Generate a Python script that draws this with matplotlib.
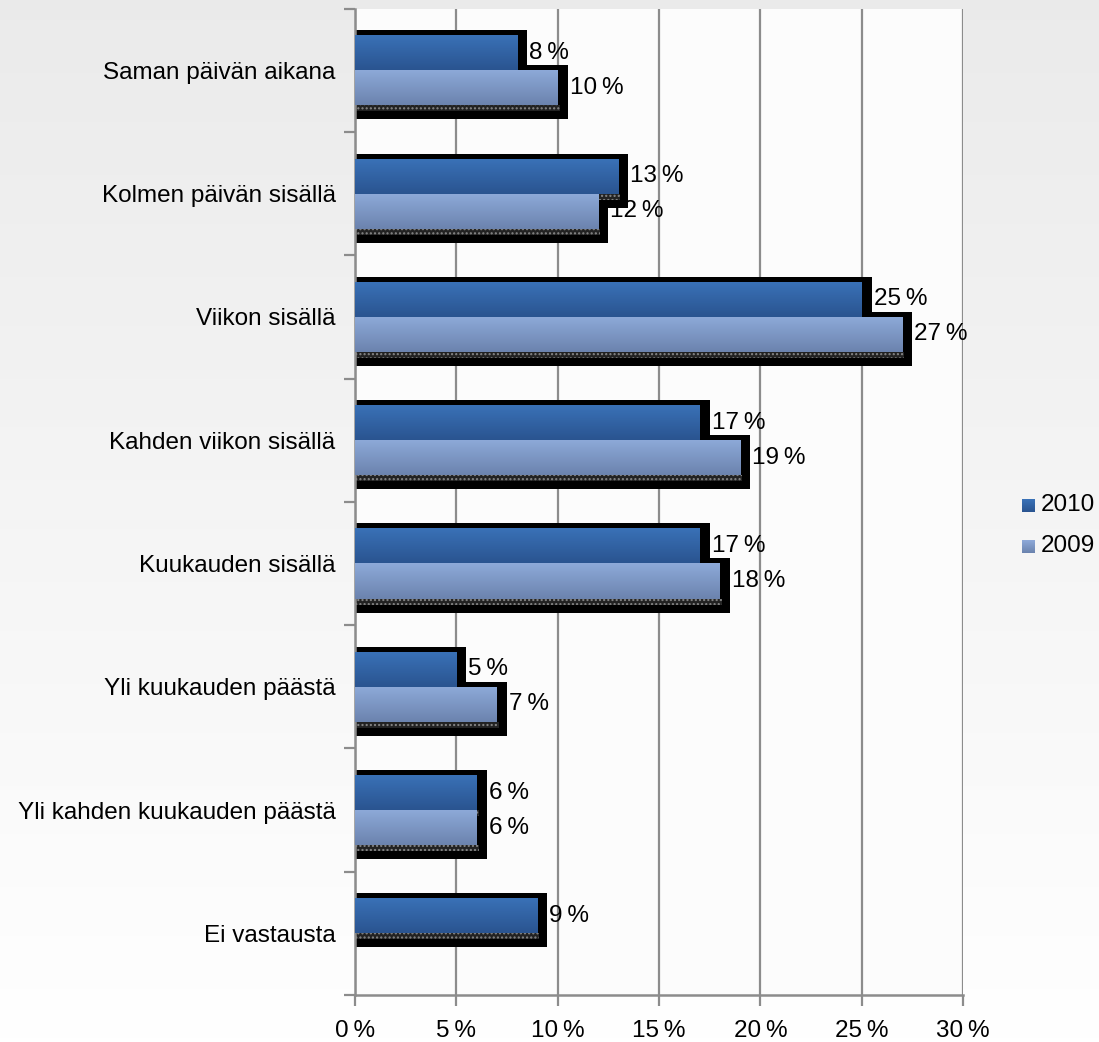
import numpy as np
import matplotlib.pyplot as plt
from matplotlib.patches import Rectangle

plt.rcParams['font.family'] = ['Liberation Sans', 'DejaVu Sans']

categories = ['Saman päivän aikana', 'Kolmen päivän sisällä', 'Viikon sisällä',
              'Kahden viikon sisällä', 'Kuukauden sisällä', 'Yli kuukauden päästä',
              'Yli kahden kuukauden päästä', 'Ei vastausta']
vals_2010 = [8, 13, 25, 17, 17, 5, 6, 9]
vals_2009 = [10, 12, 27, 19, 18, 7, 6, None]
xticks = [0, 5, 10, 15, 20, 25, 30]

col_2010 = ('#3a72b8', '#2a5490')
col_2009 = ('#8eaad9', '#6b83ae')
fs = 17.5

fig = plt.figure(figsize=(10.99, 10.42), dpi=100)

# background gradient (grey top -> white bottom)
bg = fig.add_axes([0, 0, 1, 1], zorder=-10)
grad = np.linspace(0.92, 1.0, 256).reshape(-1, 1)
bg.imshow(np.dstack([grad, grad, grad]), aspect='auto', extent=[0, 1, 0, 1])
bg.axis('off')

ax = fig.add_axes([355 / 1099, 1 - 995 / 1042, (963 - 355) / 1099, (995 - 8.7) / 1042])
ax.set_facecolor('#fcfcfc')

h = 0.284
px = 1 / 123.3  # one pixel in category units
xpx = 30 / 608  # one pixel in percent units


def grad_bar(y0, v, cols):
    # shadow
    ax.add_patch(Rectangle((0, y0 - 5 * px), v + 10 * xpx, h + 19 * px,
                           facecolor='black', edgecolor='none', zorder=2))
    ax.add_patch(Rectangle((0, y0 + h), v + 2 * xpx, 6 * px, facecolor='#222222',
                           edgecolor='#888888', hatch='....', linewidth=0, zorder=2.5))
    rect = Rectangle((0, y0), v, h, facecolor='none', edgecolor='none', zorder=3)
    ax.add_patch(rect)
    c0 = np.array(plt.matplotlib.colors.to_rgb(cols[0]))
    c1 = np.array(plt.matplotlib.colors.to_rgb(cols[1]))
    t = np.linspace(0, 1, 64).reshape(-1, 1, 1)
    img = c0 * (1 - t) + c1 * t
    im = ax.imshow(img, aspect='auto', extent=[0, v, y0 + h, y0], zorder=3,
                   interpolation='bilinear')
    im.set_clip_path(rect)
    ax.text(v + 12 * xpx, y0 + h / 2, f'{v}\u2009%', va='center', ha='left',
            fontsize=fs, zorder=5)


for i in range(len(categories)):
    grad_bar(i - h, vals_2010[i], col_2010)
    if vals_2009[i] is not None:
        grad_bar(i, vals_2009[i], col_2009)

ax.set_xlim(0, 30)
ax.set_ylim(len(categories) - 0.5, -0.5)
ax.set_xticks(xticks)
ax.set_xticklabels([f'{x}\u2009%' for x in xticks], fontsize=fs)
ax.set_yticks(range(len(categories)))
ax.set_yticklabels(categories, fontsize=fs)
ax.set_yticks(np.arange(-0.5, len(categories)), minor=True)
ax.tick_params(axis='y', which='major', length=0, pad=14)
ax.tick_params(axis='y', which='minor', length=8, width=1.6, color='#8c8c8c')
ax.tick_params(axis='x', length=8, width=1.6, color='#8c8c8c', pad=10)
ax.grid(axis='x', color='#8c8c8c', linewidth=1.6, zorder=1)
ax.set_axisbelow(True)
for s in ['top', 'right']:
    ax.spines[s].set_visible(False)
for s in ['left', 'bottom']:
    ax.spines[s].set_color('#8c8c8c')
    ax.spines[s].set_linewidth(1.8)

# legend
for yy, lab, cols in [(505, '2010', col_2010), (546, '2009', col_2009)]:
    fy = 1 - yy / 1042
    lax = fig.add_axes([1022 / 1099, fy - 7 / 1042, 13 / 1099, 13 / 1042])
    t = np.linspace(0, 1, 32).reshape(-1, 1, 1)
    c0 = np.array(plt.matplotlib.colors.to_rgb(cols[0]))
    c1 = np.array(plt.matplotlib.colors.to_rgb(cols[1]))
    lax.imshow(c0 * (1 - t) + c1 * t, aspect='auto')
    lax.axis('off')
    fig.text(1041 / 1099, fy, lab, va='center', ha='left', fontsize=fs)

fig.savefig('out.png', dpi=100)
